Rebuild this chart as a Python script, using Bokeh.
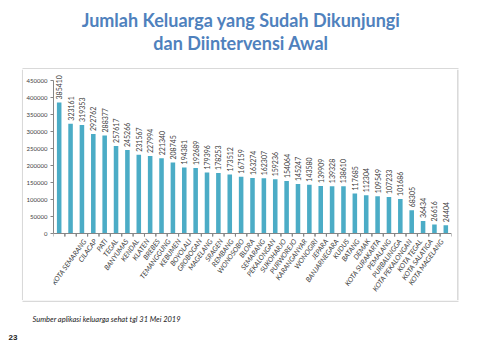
from bokeh.plotting import figure
from bokeh.layouts import column, row
from bokeh.models import (FactorRange, Range1d, ColumnDataSource, FixedTicker,
                          BasicTickFormatter)
from bokeh.transform import dodge
from bokeh.core.properties import value
from bokeh.embed import file_html
from bokeh.resources import INLINE
import math

regions = ["KOTA SEMARANG", "CILACAP", "PATI", "TEGAL", "BANYUMAS", "KENDAL", "KLATEN",
           "BREBES", "TEMANGGUNG", "KEBUMEN", "BOYOLALI", "GROBOGAN", "MAGELANG", "SRAGEN",
           "REMBANG", "WONOSOBO", "BLORA", "SEMARANG", "PEKALONGAN", "SUKOHARJO", "PURWOREJO",
           "KARANGANYAR", "WONOGIRI", "JEPARA", "BANJARNEGARA", "KUDUS", "BATANG", "DEMAK",
           "KOTA SURAKARTA", "PEMALANG", "PURBALINGGA", "KOTA PEKALONGAN", "KOTA TEGAL",
           "KOTA SALATIGA", "KOTA MAGELANG"]
families = [385410, 323161, 319353, 292762, 288377, 257617, 245266,
            231567, 227994, 221340, 208745, 194381, 192689, 179396,
            178253, 173512, 167159, 163274, 162307, 159236, 154064,
            145247, 143580, 139909, 139328, 138610, 117685, 112304,
            109549, 107233, 101686, 68305, 36434,
            26616, 24404]
y_ticks = [0, 50000, 100000, 150000, 200000, 250000, 300000, 350000, 400000, 450000]
title_lines = ["Jumlah Keluarga yang Sudah Dikunjungi", "dan Diintervensi Awal"]
source_note = "Sumber aplikasi keluarga sehat tgl 31 Mei 2019"
page_no = "23"

W = 464
N = len(regions)
GRAY = "#d9d9d9"
AXIS = "#868686"
PX = 450000 / 153          # data units per pixel on the value axis


def blank(width, height, x0, y0):
    f = figure(width=width, height=height, output_backend="svg", toolbar_location=None,
               x_range=Range1d(x0, x0 + width), y_range=Range1d(y0 + height, y0),
               x_axis_type=None, y_axis_type=None, min_border=0)
    f.outline_line_color = None
    f.xgrid.grid_line_color = None
    f.ygrid.grid_line_color = None
    f.border_fill_color = "white"
    f.background_fill_color = "white"
    return f


# ---- title strip (page y 0..69) with the top edge of the chart box ----
ft = blank(W, 69, 0, 0)
ft.text(x=[240.5, 240.5], y=[19.5, 42], text=title_lines, text_align="center",
        text_baseline="middle", text_font=value("Lato"), text_font_style="bold",
        text_font_size="18px", text_color="#4F81BD")
ft.segment(x0=[22], y0=[68.3], x1=[458], y1=[68.3], line_color=GRAY, line_width=1.5)

# ---- box side gutters ----
gl = blank(23, 231, 0, 69)
gl.segment(x0=[22.2], y0=[69], x1=[22.2], y1=[300], line_color=GRAY, line_width=1.5)
gr = blank(8, 231, 456, 69)
gr.segment(x0=[457.3], y0=[69], x1=[457.3], y1=[300], line_color=GRAY, line_width=1.5)

# ---- chart (page x 23..456, y 69..237); frame x 51..451 ----
src = ColumnDataSource(dict(region=regions, n=families, lab=[str(v) for v in families]))

p = figure(width=433, height=168, output_backend="svg", toolbar_location=None,
           x_range=FactorRange(factors=regions, range_padding=0),
           y_range=Range1d(-4 * PX, 163 * PX), x_axis_location=None,
           min_border_left=28, min_border_right=5, min_border_top=1, min_border_bottom=0)
p.outline_line_color = None
p.background_fill_color = "white"
p.border_fill_color = "white"
p.xgrid.grid_line_color = None
p.ygrid.grid_line_color = None

p.vbar(x="region", top="n", width=0.4, source=src, fill_color="#4BACC6", line_color=None)
p.text(x="region", y="n", text="lab", source=src, angle=math.pi / 2, y_offset=-3,
       text_align="left", text_baseline="middle", text_font=value("Lato"),
       text_font_size="7px", text_color="#404040")
# category axis: baseline and boundary ticks
p.hspan(y=[0], line_color=AXIS, line_width=1)
p.segment(x0=dodge("region", -0.5, range=p.x_range), y0=0,
          x1=dodge("region", -0.5, range=p.x_range), y1=-3 * PX,
          source=src, line_color=AXIS, line_width=1)
p.segment(x0=dodge("region", 0.5, range=p.x_range), y0=0,
          x1=dodge("region", 0.5, range=p.x_range), y1=-3 * PX,
          source=src, line_color=AXIS, line_width=1)

yax = p.yaxis[0]
yax.ticker = FixedTicker(ticks=y_ticks)
yax.bounds = (0, 450000)
yax.formatter = BasicTickFormatter(use_scientific=False)
yax.axis_line_color = AXIS
yax.major_tick_line_color = AXIS
yax.major_tick_out = 3
yax.major_tick_in = 0
yax.minor_tick_line_color = None
yax.major_label_text_font = "Lato"
yax.major_label_text_font_size = "6px"
yax.major_label_text_color = "#404040"
yax.major_label_standoff = 3

# ---- category labels strip (page y 237..300), same band positions as the chart ----
BAND = 400 / N
pos = [i + 0.5 for i in range(N)]
pl = figure(width=433, height=63, output_backend="svg", toolbar_location=None,
            x_range=Range1d((23 - 51) / BAND, N + (456 - 451) / BAND), y_range=Range1d(0, 63),
            x_axis_type=None, y_axis_type=None, min_border=0)
pl.outline_line_color = None
pl.xgrid.grid_line_color = None
pl.ygrid.grid_line_color = None
pl.border_fill_color = "white"
pl.background_fill_color = "white"
pl.text(x=pos, y=[61] * N, text=regions, angle=0.95, text_align="right",
        text_baseline="middle", text_font=value("Lato"), text_font_style="italic",
        text_font_size="7px", text_color="#404040")

# ---- footer strip (page y 300..344) with the bottom edge of the box ----
ff = blank(W, 44, 0, 300)
ff.segment(x0=[22], y0=[300.7], x1=[458], y1=[300.7], line_color=GRAY, line_width=1.5)
ff.text(x=[32], y=[319], text=[source_note], text_align="left", text_baseline="middle",
        text_font=value("Lato"), text_font_style="italic", text_font_size="7.5px",
        text_color="#222222")
ff.text(x=[8], y=[337], text=[page_no], text_align="left", text_baseline="middle",
        text_font=value("Liberation Sans"), text_font_style="bold", text_font_size="8px",
        text_color="#222222")

layout = column(ft, row(gl, column(p, pl, spacing=0), gr, spacing=0), ff, spacing=0)

open("out.html", "w").write(file_html(layout, INLINE))
